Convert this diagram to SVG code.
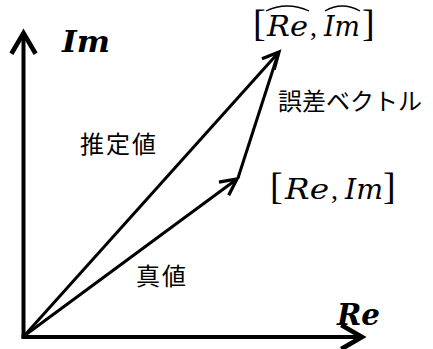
<svg xmlns="http://www.w3.org/2000/svg" width="433" height="349" viewBox="0 0 433 349">
<style>
.ax{stroke:#000;stroke-width:4;fill:none}
.vec{stroke:#000;stroke-width:3;fill:none}
.math{font-family:"DejaVu Serif","Liberation Serif",serif;font-style:italic;fill:#000}
.br{font-family:"Liberation Serif","DejaVu Serif",serif;font-style:normal;font-size:38px}
.cm{font-family:"Liberation Serif","DejaVu Serif",serif;font-style:normal}
.bold{font-weight:bold}
.jp{font-family:"Noto Sans CJK JP","Noto Sans",sans-serif;font-size:24px;fill:#000}
.hat{stroke:#000;stroke-width:1.3;fill:none}
</style>
<defs>
<marker id="axh" markerUnits="userSpaceOnUse" markerWidth="30" markerHeight="30" viewBox="-22 -13 26 26" refX="0" refY="0" orient="auto">
<path d="M-18,-10.5 L0,0 L-18,10.5" stroke="#000" stroke-width="4" fill="none"/>
</marker>
<marker id="vh" markerUnits="userSpaceOnUse" markerWidth="24" markerHeight="24" viewBox="-18 -10 22 20" refX="0" refY="0" orient="auto">
<path d="M-15,-7.5 L0,0 L-15,7.5" stroke="#000" stroke-width="3" fill="none"/>
</marker>
</defs>
<g id="connectors">
<line class="ax" x1="23.5" y1="338" x2="23.5" y2="33" marker-end="url(#axh)"/>
<line class="ax" x1="21.5" y1="337" x2="362" y2="337" marker-end="url(#axh)"/>
<line class="vec" x1="24" y1="336" x2="279" y2="52" marker-end="url(#vh)"/>
<line class="vec" x1="24" y1="336" x2="237" y2="179" marker-end="url(#vh)"/>
<line class="vec" x1="238" y1="178" x2="278" y2="54"/>
</g>
<g id="axis-im">
<text class="math bold" x="62" y="52" font-size="29" textLength="48" lengthAdjust="spacingAndGlyphs">Im</text>
</g>
<g id="axis-re">
<text class="math bold" x="337" y="325" font-size="29" textLength="43" lengthAdjust="spacingAndGlyphs">Re</text>
</g>
<g id="estimate-point">
<text class="math" font-size="28" y="36"><tspan class="br" x="253">[</tspan><tspan x="267" textLength="41" lengthAdjust="spacingAndGlyphs">Re</tspan><tspan class="cm" x="310">,</tspan><tspan x="324" textLength="36" lengthAdjust="spacingAndGlyphs">Im</tspan><tspan class="br" x="362">]</tspan></text>
<path class="hat" d="M266,11 Q287,1 309,11"/>
<path class="hat" d="M325,11 Q342,1 360,11"/>
</g>
<g id="true-point">
<text class="math" font-size="28" y="199"><tspan class="br" x="270">[</tspan><tspan x="285" textLength="44" lengthAdjust="spacingAndGlyphs">Re</tspan><tspan class="cm" x="331">,</tspan><tspan x="345" textLength="38" lengthAdjust="spacingAndGlyphs">Im</tspan><tspan class="br" x="383">]</tspan></text>
</g>
<g id="error-label">
<text class="jp" x="278" y="110" font-size="26">誤差ベクトル</text>
</g>
<g id="estimate-label">
<text class="jp" x="80" y="153" letter-spacing="2">推定値</text>
</g>
<g id="true-label">
<text class="jp" x="136" y="285" letter-spacing="2">真値</text>
</g>
</svg>
